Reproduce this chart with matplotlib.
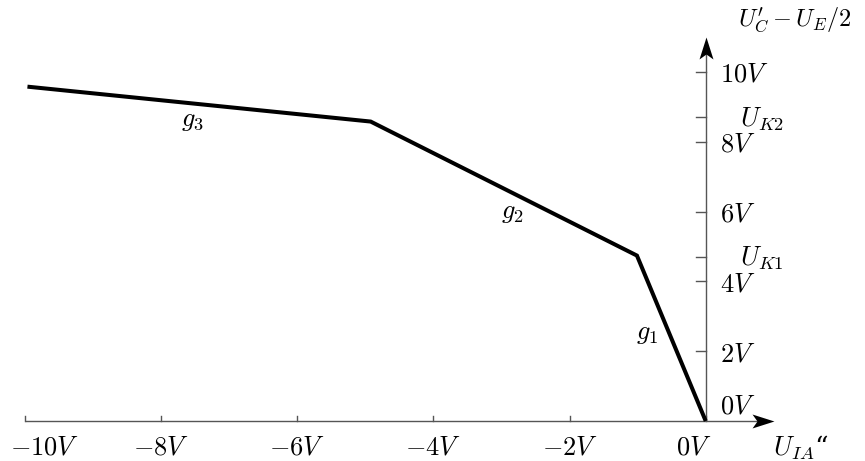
import matplotlib
matplotlib.use("Agg")
import matplotlib.pyplot as plt
from matplotlib.path import Path

plt.rcParams["mathtext.fontset"] = "cm"
plt.rcParams["font.family"] = ["DejaVu Serif"]

# characteristic: U_IA (x) vs U_C' - U_E/2 (y), piecewise linear
curve_x = [0.0, -1.01, -4.92, -9.96]
curve_y = [0.0, 4.74, 8.58, 9.58]

x_ticks = [-10, -8, -6, -4, -2, 0]
x_tick_labels = [r"$-10V$", r"$-8V$", r"$-6V$", r"$-4V$", r"$-2V$", r"$0V$"]
y_ticks = [0, 2, 4, 6, 8, 10]
y_tick_labels = [r"$0V$", r"$2V$", r"$4V$", r"$6V$", r"$8V$", r"$10V$"]
knee_ticks = [4.7, 8.7]
knee_labels = [r"$U_{K1}$", r"$U_{K2}$"]
segment_labels = [r"$g_1$", r"$g_2$", r"$g_3$"]
segment_label_pos = [(-0.86, 2.52), (-2.84, 5.96), (-7.54, 8.6)]

fig = plt.figure(figsize=(8.65, 4.61), dpi=100)
ax = fig.add_axes([0, 0, 1, 1])
ax.set_xlim(-10.363, 2.339)
ax.set_ylim(-1.146, 12.063)
ax.axis("off")

axis_color = "#555555"
fs = 19

# axes lines
ax.plot([-10, 0.85], [0, 0], color=axis_color, lw=1.0, solid_capstyle="butt")
ax.plot([0, 0], [0, 10.8], color=axis_color, lw=1.0, solid_capstyle="butt")

# stealth arrow heads
up_head = Path([(0, 11), (7, -11), (0, -6), (-7, -11), (0, 11)],
               [Path.MOVETO, Path.LINETO, Path.LINETO, Path.LINETO, Path.CLOSEPOLY])
right_head = Path([(11, 0), (-11, 7), (-6, 0), (-11, -7), (11, 0)],
                  [Path.MOVETO, Path.LINETO, Path.LINETO, Path.LINETO, Path.CLOSEPOLY])
ax.plot([0], [11.0 - 0.315], marker=up_head, markersize=15.8,
        color="black", markeredgewidth=0)
ax.plot([1.0 - 0.162], [0], marker=right_head, markersize=15.8,
        color="black", markeredgewidth=0)

# x ticks (pointing up)
for xt in x_ticks:
    ax.plot([xt, xt], [0, 0.14], color=axis_color, lw=1.0)
# y ticks (pointing left)
for yt in y_ticks[1:] + knee_ticks:
    ax.plot([-0.147, 0], [yt, yt], color=axis_color, lw=1.0)

# x tick labels
x_label_pos = list(x_ticks)
x_label_pos[0] = -9.71
x_label_pos[-1] = -0.17
for xp, lab in zip(x_label_pos, x_tick_labels):
    ax.text(xp, -0.68, lab, ha="center", va="center_baseline", fontsize=fs)

# y tick labels
for yt, lab in zip(y_ticks, y_tick_labels):
    yp = 0.5 if yt == 0 else yt
    ax.text(0.21, yp, lab, ha="left", va="center_baseline", fontsize=fs)

for yt, lab in zip(knee_ticks, knee_labels):
    ax.text(0.5, yt - 0.05, lab, ha="left", va="center", fontsize=fs)

# axis titles
ax.text(0.47, 11.49, r"$U_C^{\prime}-U_E/2$", ha="left", va="center", fontsize=17.5)
ax.text(0.99, -0.68, r"$U_{IA}$“", ha="left", va="center_baseline", fontsize=fs)

# curve
ax.plot(curve_x, curve_y, color="black", lw=2.9, solid_joinstyle="miter",
        solid_capstyle="butt")

for (px, py), lab in zip(segment_label_pos, segment_labels):
    ax.text(px, py, lab, ha="center", va="center", fontsize=fs)

fig.savefig("out.png", dpi=100)
